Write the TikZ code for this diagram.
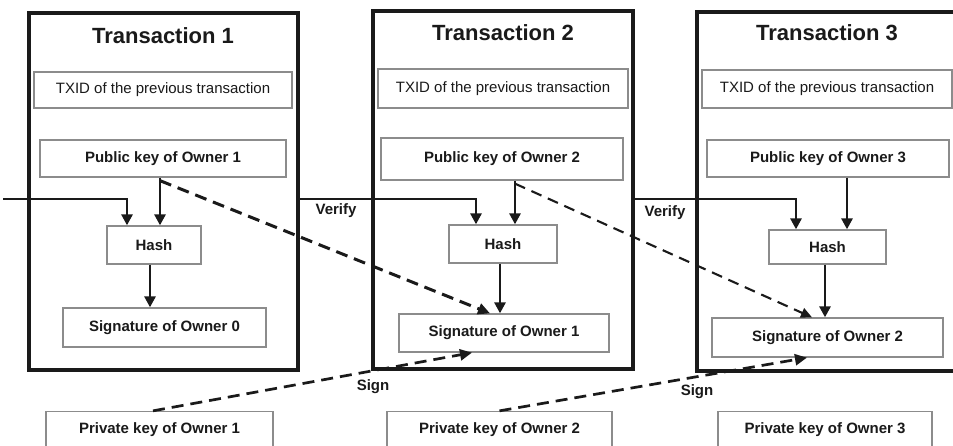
\documentclass[tikz,border=0pt]{standalone}
\usepackage{fontspec}
\setmainfont{Liberation Sans}
\usetikzlibrary{arrows.meta,calc}
\definecolor{boxgray}{HTML}{8C8C8C}
\definecolor{ink}{HTML}{1A1A1A}
\tikzset{
  txframe/.style={draw=ink, line width=3.2pt, inner sep=0pt},
  inbox/.style={draw=boxgray, line width=1.3pt, fill=white, inner sep=0pt, text=ink, font=\fontsize{15}{17}\selectfont},
  inboxb/.style={inbox, font=\fontsize{15}{17}\selectfont\bfseries},
  ttl/.style={inner sep=0pt, text=ink, font=\fontsize{22}{25}\selectfont\bfseries},
  lbl/.style={inner sep=0pt, text=ink, font=\fontsize{15}{17}\selectfont\bfseries},
  arr/.style={draw=ink, line width=2.8pt, -{Triangle[length=11pt,width=11pt]}},
  dsh/.style={draw=ink, line width=3pt, dash pattern=on 12pt off 7pt, -{Triangle[length=12pt,width=11pt]}},
  dshthin/.style={draw=ink, line width=2.1pt, dash pattern=on 11pt off 7pt, -{Triangle[length=11pt,width=10pt]}},
}
\begin{document}
\begin{tikzpicture}[x=1pt,y=-1pt]
\useasboundingbox (0,0) rectangle (953,446);
\fill[white] (0,0) rectangle (953,446);
\clip (0,0) rectangle (953,446);

% transaction frames
\node[txframe, minimum width=269pt, minimum height=357pt] (tx1) at (163.5,191.5) {};
\node[txframe, minimum width=260pt, minimum height=358pt] (tx2) at (503,190) {};
\node[txframe, minimum width=283pt, minimum height=359pt] (tx3) at (838.5,191.5) {};

% titles
\node[ttl] (t1) at (163,36) {Transaction 1};
\node[ttl] (t2) at (503,33) {Transaction 2};
\node[ttl] (t3) at (827,33) {Transaction 3};

% TXID boxes
\node[inbox, minimum width=258pt, minimum height=36pt] (txid1) at (163,90) {TXID of the previous transaction};
\node[inbox, minimum width=250pt, minimum height=39pt] (txid2) at (503,88.5) {TXID of the previous transaction};
\node[inbox, minimum width=250pt, minimum height=38pt] (txid3) at (827,89) {TXID of the previous transaction};

% public keys
\node[inboxb, minimum width=246pt, minimum height=37pt] (pub1) at (163,158.5) {Public key of Owner 1};
\node[inboxb, minimum width=242pt, minimum height=42pt] (pub2) at (502,159) {Public key of Owner 2};
\node[inboxb, minimum width=242pt, minimum height=37pt] (pub3) at (828,158.5) {Public key of Owner 3};

% hashes
\node[inboxb, minimum width=94pt, minimum height=38pt] (hash1) at (154,245) {Hash};
\node[inboxb, minimum width=108pt, minimum height=38pt] (hash2) at (503,244) {Hash};
\node[inboxb, minimum width=117pt, minimum height=34pt] (hash3) at (827.5,247) {Hash};

% signatures
\node[inboxb, minimum width=203pt, minimum height=39pt] (sig0) at (164.5,327.5) {Signature of Owner 0};
\node[inboxb, minimum width=210pt, minimum height=38pt] (sig1) at (504,333) {Signature of Owner 1};
\node[inboxb, minimum width=231pt, minimum height=39pt] (sig2) at (827.5,337.5) {Signature of Owner 2};

% private keys
\node[inboxb, minimum width=227pt, minimum height=36pt] (priv1) at (159.5,429.5) {Private key of Owner 1};
\node[inboxb, minimum width=225pt, minimum height=36pt] (priv2) at (499.5,429.5) {Private key of Owner 2};
\node[inboxb, minimum width=214pt, minimum height=36pt] (priv3) at (825,429.5) {Private key of Owner 3};

% labels
\node[lbl] (v1) at (336,211) {Verify};
\node[lbl] (v2) at (665,213) {Verify};
\node[lbl] (s1) at (373,387) {Sign};
\node[lbl] (s2) at (697,392) {Sign};

% helper coordinates
\coordinate (in0) at (3,199);
\coordinate (h1a) at ([xshift=-27pt]hash1.north);
\coordinate (h1b) at ([xshift=6pt]hash1.north);
\coordinate (h1c) at ([xshift=-4pt]hash1.south);
\coordinate (h2a) at ([xshift=-27pt]hash2.north);
\coordinate (h2b) at ([xshift=12pt]hash2.north);
\coordinate (h2c) at ([xshift=-3pt]hash2.south);
\coordinate (h3a) at ([xshift=-31.5pt]hash3.north);
\coordinate (h3b) at ([xshift=19.5pt]hash3.north);
\coordinate (h3c) at ([xshift=-2.5pt]hash3.south);

% solid arrows
\draw[arr] (in0) -| (h1a);
\draw[arr] (h1b |- pub1.south) -- (h1b);
\draw[arr] (h1c) -- (h1c |- sig0.north);
\draw[arr] (tx1.east |- in0) -| (h2a);
\draw[arr] (h2b |- pub2.south) -- (h2b);
\draw[arr] (h2c) -- (h2c |- sig1.north);
\draw[arr] (tx2.east |- in0) -| (h3a);
\draw[arr] (h3b |- pub3.south) -- (h3b);
\draw[arr] (h3c) -- (h3c |- sig2.north);

% dashed verify links
\draw[dsh] ([yshift=-3pt]h1b |- pub1.south) -- ([xshift=-14pt]sig1.north);
\draw[dshthin] ([yshift=-3pt]h2b |- pub2.south) -- ([xshift=-15.5pt]sig2.north);

% dashed sign links
\draw[dsh, line width=2.7pt] ([xshift=-6.5pt]priv1.north) -- ([xshift=-32pt]sig1.south);
\draw[dsh, line width=2.7pt] (priv2.north) -- ([xshift=-20.5pt]sig2.south);
\end{tikzpicture}
\end{document}
